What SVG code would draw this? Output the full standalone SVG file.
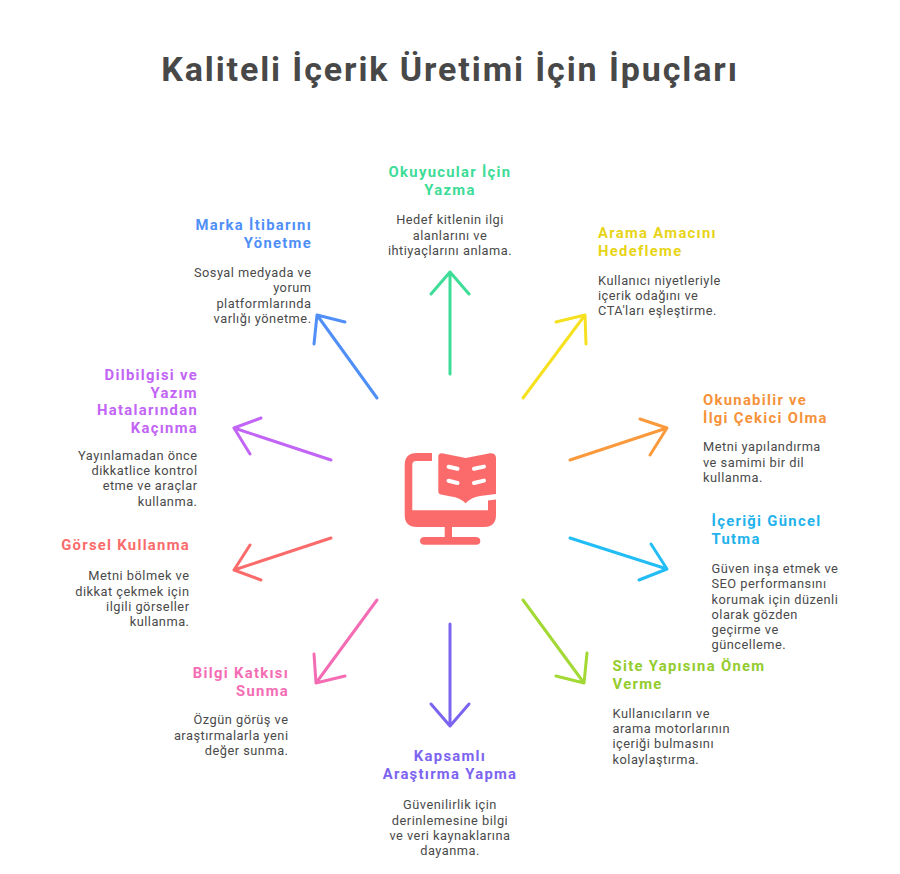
<svg xmlns="http://www.w3.org/2000/svg" width="900" height="874" viewBox="0 0 900 874">
<style>
text{font-family:Roboto,"Open Sans","Noto Sans",sans-serif}
.t{font-size:34px;font-weight:700;fill:#484848;text-anchor:middle;letter-spacing:1.9px}
.h{font-size:14.8px;font-weight:700;letter-spacing:1.3px}
.b{font-size:12.8px;fill:#4a4a4a;letter-spacing:.5px}
.m{text-anchor:middle}.e{text-anchor:end}
.a{fill:none;stroke-width:3;stroke-linecap:round;stroke-linejoin:round}
.c1{fill:#3ddc97}.c2{fill:#e8d417}.c3{fill:#f5923a}.c4{fill:#1fb2ec}.c5{fill:#93cc2c}.c6{fill:#7c64f0}.c7{fill:#f46db4}.c8{fill:#fb6b6b}.c9{fill:#c264f5}.c10{fill:#4f8ff7}
</style>
<rect width="900" height="874" fill="#fff"/>
<text class="t" x="450" y="81">Kaliteli İçerik Üretimi İçin İpuçları</text>
<g id="connectors">
<path class="a" stroke="#3ddc97" d="M450 374V272M431 294L450 272L469 294"/>
<path class="a" stroke="#4f8ff7" d="M377 398L317 315M314 344L317 315L345 322"/>
<path class="a" stroke="#f5e11f" d="M523 398L585 315M556 322L585 315L586 344"/>
<path class="a" stroke="#fb9a3c" d="M570 460L667 428M640 419L667 428L650 455"/>
<path class="a" stroke="#22bdf5" d="M570 538L667 569M651 544L667 569L639 580"/>
<path class="a" stroke="#a3d934" d="M523 600L584 683M587 653L584 683L556 676"/>
<path class="a" stroke="#7c64f0" d="M450 624V726M431 704L450 726L469 704"/>
<path class="a" stroke="#f46db4" d="M377 600L316 683M314 654L316 683L345 676"/>
<path class="a" stroke="#fb6b6b" d="M331 538L234 570M250 545L234 570L261 580"/>
<path class="a" stroke="#c264f5" d="M331 460L234 428M261 418L234 428L250 454"/>
</g>
<g id="center-icon">
<path fill="#fb6b6b" d="M432 453V461H416Q412.300 461 412.300 465V510.300H488V500.500L496 499.500V515Q496 527 484 527H452V537H475.500Q480.300 537 480.300 541T475.500 544.700H424.500Q420 544.700 420 541T424.500 537H444.700V527H416.700Q404.700 527 404.700 515V465Q404.700 453 416.700 453Z"/>
<path fill="#fb6b6b" d="M438.300 457Q438.300 453 442 453.300L465.700 458L490 453.300Q496 453 496 458V494L480 496Q471 497.500 465.700 503.300Q460 497.500 451 496.500L441 494.500Q438.300 494 438.300 491Z"/>
<path fill="none" stroke="#fff" stroke-width="4" stroke-linecap="round" d="M448.500 466.800L457.500 468.800M448.500 480.800L457.500 483M474 468.800L484 466.600M474 483L484 480.600"/>
</g>
<g id="n1"><text class="h m c1" x="450" y="177">Okuyucular İçin</text><text class="h m c1" x="450" y="194.500">Yazma</text><text class="b m" x="450" y="224">Hedef kitlenin ilgi</text><text class="b m" x="450" y="239.500">alanlarını ve</text><text class="b m" x="450" y="254.500">ihtiyaçlarını anlama.</text></g>
<g id="n2"><text class="h c2" x="598" y="238">Arama Amacını</text><text class="h c2" x="598" y="255.500">Hedefleme</text><text class="b" x="598" y="284.500">Kullanıcı niyetleriyle</text><text class="b" x="598" y="300">içerik odağını ve</text><text class="b" x="598" y="315">CTA'ları eşleştirme.</text></g>
<g id="n3"><text class="h c3" x="703" y="405">Okunabilir ve</text><text class="h c3" x="703" y="423">İlgi Çekici Olma</text><text class="b" x="703" y="451">Metni yapılandırma</text><text class="b" x="703" y="466.500">ve samimi bir dil</text><text class="b" x="703" y="482">kullanma.</text></g>
<g id="n4"><text class="h c4" x="711.500" y="526">İçeriği Güncel</text><text class="h c4" x="711.500" y="544">Tutma</text><text class="b" x="711.500" y="573">Güven inşa etmek ve</text><text class="b" x="711.500" y="588">SEO performansını</text><text class="b" x="711.500" y="603.500">korumak için düzenli</text><text class="b" x="711.500" y="618.500">olarak gözden</text><text class="b" x="711.500" y="634">geçirme ve</text><text class="b" x="711.500" y="649">güncelleme.</text></g>
<g id="n5"><text class="h c5" x="612.500" y="671">Site Yapısına Önem</text><text class="h c5" x="612.500" y="689">Verme</text><text class="b" x="612.500" y="717.500">Kullanıcıların ve</text><text class="b" x="612.500" y="733">arama motorlarının</text><text class="b" x="612.500" y="748">içeriği bulmasını</text><text class="b" x="612.500" y="763.500">kolaylaştırma.</text></g>
<g id="n6"><text class="h m c6" x="450" y="761">Kapsamlı</text><text class="h m c6" x="450" y="779">Araştırma Yapma</text><text class="b m" x="450" y="809">Güvenilirlik için</text><text class="b m" x="450" y="824.500">derinlemesine bilgi</text><text class="b m" x="450" y="840">ve veri kaynaklarına</text><text class="b m" x="450" y="855">dayanma.</text></g>
<g id="n7"><text class="h e c7" x="289" y="678">Bilgi Katkısı</text><text class="h e c7" x="289" y="696">Sunma</text><text class="b e" x="288.500" y="724">Özgün görüş ve</text><text class="b e" x="288.500" y="739.500">araştırmalarla yeni</text><text class="b e" x="288.500" y="755">değer sunma.</text></g>
<g id="n8"><text class="h e c8" x="190" y="550">Görsel Kullanma</text><text class="b e" x="189.500" y="580">Metni bölmek ve</text><text class="b e" x="189.500" y="595.500">dikkat çekmek için</text><text class="b e" x="189.500" y="611">ilgili görseller</text><text class="b e" x="189.500" y="626">kullanma.</text></g>
<g id="n9"><text class="h e c9" x="198" y="380">Dilbilgisi ve</text><text class="h e c9" x="198" y="397.500">Yazım</text><text class="h e c9" x="198" y="415">Hatalarından</text><text class="h e c9" x="198" y="432.500">Kaçınma</text><text class="b e" x="197.500" y="459.500">Yayınlamadan önce</text><text class="b e" x="197.500" y="475">dikkatlice kontrol</text><text class="b e" x="197.500" y="490">etme ve araçlar</text><text class="b e" x="197.500" y="505.500">kullanma.</text></g>
<g id="n10"><text class="h e c10" x="312" y="230">Marka İtibarını</text><text class="h e c10" x="312" y="248">Yönetme</text><text class="b e" x="311.500" y="277">Sosyal medyada ve</text><text class="b e" x="311.500" y="292">yorum</text><text class="b e" x="311.500" y="307.500">platformlarında</text><text class="b e" x="311.500" y="322.500">varlığı yönetme.</text></g>
</svg>
